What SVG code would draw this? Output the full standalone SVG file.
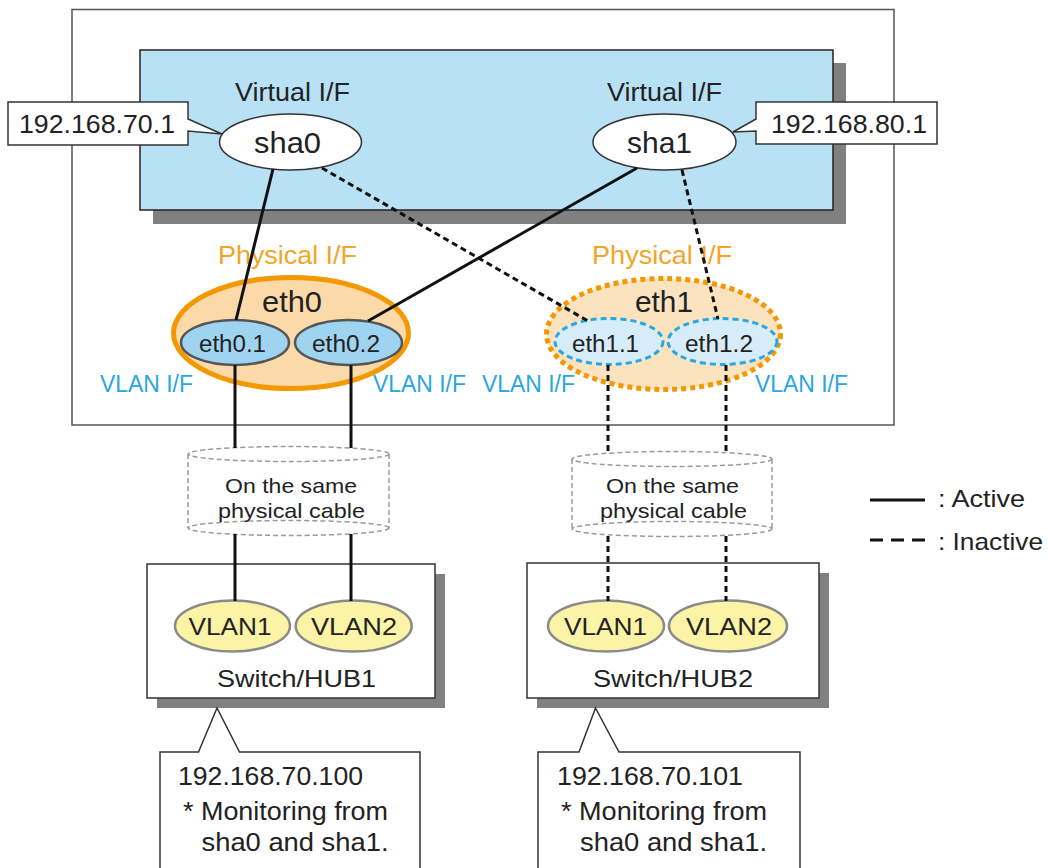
<svg xmlns="http://www.w3.org/2000/svg" width="1048" height="868" viewBox="0 0 1048 868">
<defs>
<style>
text { font-family: "Liberation Sans", Arial, Helvetica, sans-serif; fill:#222; }
.box { fill:#fff; stroke:#333; stroke-width:1.5; }
.shadow { fill:#808080; }
.vif { fill:#fff; stroke:#333; stroke-width:1.5; }
.solid { stroke:#111; stroke-width:3; fill:none; }
.dash { stroke:#111; stroke-width:3; fill:none; stroke-dasharray:6 4; }
.orange { fill:#f4a428; }
.blue { fill:#2aa6e0; }
.vlan { fill:#fbf3a6; stroke:#8a8a8a; stroke-width:2.5; }
.cable { fill:none; stroke:#9a9a9a; stroke-width:1.5; stroke-dasharray:5 3; }
.sub { fill:#9fd4f1; stroke:#555; stroke-width:2.5; }
.subi { fill:#d6ecf9; stroke:#2aa6e0; stroke-width:3; stroke-dasharray:6 4; }
</style>
</defs>
<rect width="1048" height="868" fill="#fff"/>

<g id="host">
  <rect x="72" y="9.5" width="822" height="415.5" fill="#fff" stroke="#555" stroke-width="1.5"/>
</g>

<g id="virtual-area">
  <rect class="shadow" x="153" y="63" width="693" height="161"/>
  <rect x="140" y="50" width="693" height="160" fill="#b8e1f6" stroke="#222" stroke-width="1.5"/>
  <text x="235" y="101" font-size="25" textLength="115" lengthAdjust="spacingAndGlyphs">Virtual I/F</text>
  <text x="607" y="101" font-size="25" textLength="115" lengthAdjust="spacingAndGlyphs">Virtual I/F</text>
</g>

<g id="ip-sha0">
  <path class="box" d="M8,102 H188 V119 L222,134 L188,131 V145 H8 Z"/>
  <text x="19" y="133" font-size="26" textLength="156" lengthAdjust="spacingAndGlyphs">192.168.70.1</text>
</g>
<g id="ip-sha1">
  <path class="box" d="M756,102 H937 V144 H756 V131 L733,132 L756,119 Z"/>
  <text x="771" y="133" font-size="26" textLength="156" lengthAdjust="spacingAndGlyphs">192.168.80.1</text>
</g>

<g id="sha0">
  <ellipse class="vif" cx="290.5" cy="142" rx="71" ry="28"/>
  <text x="254" y="153" font-size="30" textLength="67" lengthAdjust="spacingAndGlyphs">sha0</text>
</g>
<g id="sha1">
  <ellipse class="vif" cx="664.5" cy="142" rx="71.5" ry="28"/>
  <text x="627" y="153" font-size="30" textLength="65" lengthAdjust="spacingAndGlyphs">sha1</text>
</g>

<g id="eth0">
  <text class="orange" x="218" y="264" font-size="25" textLength="139" lengthAdjust="spacingAndGlyphs">Physical I/F</text>
  <ellipse cx="291" cy="333" rx="117.5" ry="55.5" fill="#fbd9a8" stroke="#f39800" stroke-width="5"/>
  <text x="262" y="312" font-size="30" textLength="60" lengthAdjust="spacingAndGlyphs">eth0</text>
</g>
<g id="eth1">
  <text class="orange" x="592" y="264" font-size="25" textLength="140" lengthAdjust="spacingAndGlyphs">Physical I/F</text>
  <ellipse cx="663.5" cy="334" rx="117" ry="55.5" fill="#fce3c0" stroke="#f39800" stroke-width="5" stroke-dasharray="5 4"/>
  <text x="635" y="312" font-size="30" textLength="58" lengthAdjust="spacingAndGlyphs">eth1</text>
</g>

<g id="eth0.1">
  <ellipse class="sub" cx="235" cy="342.5" rx="54" ry="22.5"/>
  <text x="199" y="352" font-size="23" textLength="67" lengthAdjust="spacingAndGlyphs">eth0.1</text>
</g>
<g id="eth0.2">
  <ellipse class="sub" cx="348.5" cy="342.5" rx="53.5" ry="22.5"/>
  <text x="312" y="352" font-size="23" textLength="68" lengthAdjust="spacingAndGlyphs">eth0.2</text>
</g>
<g id="eth1.1">
  <ellipse class="subi" cx="609" cy="341.5" rx="54" ry="23"/>
  <text x="572" y="352" font-size="23" textLength="67" lengthAdjust="spacingAndGlyphs">eth1.1</text>
</g>
<g id="eth1.2">
  <ellipse class="subi" cx="722.5" cy="341.5" rx="54.5" ry="23"/>
  <text x="685" y="352" font-size="23" textLength="68" lengthAdjust="spacingAndGlyphs">eth1.2</text>
</g>

<g id="vlan-if-labels">
  <text class="blue" x="100" y="392" font-size="23" textLength="93" lengthAdjust="spacingAndGlyphs">VLAN I/F</text>
  <text class="blue" x="373" y="392" font-size="23" textLength="93" lengthAdjust="spacingAndGlyphs">VLAN I/F</text>
  <text class="blue" x="482" y="392" font-size="23" textLength="93" lengthAdjust="spacingAndGlyphs">VLAN I/F</text>
  <text class="blue" x="755" y="392" font-size="23" textLength="93" lengthAdjust="spacingAndGlyphs">VLAN I/F</text>
</g>

<g id="cable1">
  <ellipse class="cable" cx="288.5" cy="454" rx="100.5" ry="7.5"/>
  <ellipse class="cable" cx="288.5" cy="528" rx="100.5" ry="7.5"/>
  <line class="cable" x1="188" y1="454" x2="188" y2="528"/>
  <line class="cable" x1="389" y1="454" x2="389" y2="528"/>
  <text x="225" y="493" font-size="21" textLength="132" lengthAdjust="spacingAndGlyphs">On the same</text>
  <text x="218" y="517.5" font-size="21" textLength="147" lengthAdjust="spacingAndGlyphs">physical cable</text>
</g>
<g id="cable2">
  <ellipse class="cable" cx="672" cy="459" rx="100" ry="7.5"/>
  <ellipse class="cable" cx="672" cy="529" rx="100" ry="7.5"/>
  <line class="cable" x1="572" y1="459" x2="572" y2="529"/>
  <line class="cable" x1="772" y1="459" x2="772" y2="529"/>
  <text x="606" y="493" font-size="21" textLength="133" lengthAdjust="spacingAndGlyphs">On the same</text>
  <text x="600" y="517.5" font-size="21" textLength="147" lengthAdjust="spacingAndGlyphs">physical cable</text>
</g>

<g id="hub1">
  <rect class="shadow" x="157" y="574" width="288" height="134"/>
  <rect class="box" x="147" y="564" width="288" height="134"/>
  <ellipse class="vlan" cx="232.5" cy="626" rx="57.5" ry="25.5"/>
  <ellipse class="vlan" cx="353.7" cy="626" rx="58" ry="25.5"/>
  <text x="188.5" y="635" font-size="24" textLength="83" lengthAdjust="spacingAndGlyphs">VLAN1</text>
  <text x="311" y="635" font-size="24" textLength="86" lengthAdjust="spacingAndGlyphs">VLAN2</text>
  <text x="217" y="687" font-size="24" textLength="159" lengthAdjust="spacingAndGlyphs">Switch/HUB1</text>
</g>
<g id="hub2">
  <rect class="shadow" x="537" y="573" width="292" height="135"/>
  <rect class="box" x="527" y="563" width="292" height="135"/>
  <ellipse class="vlan" cx="606" cy="626" rx="58" ry="25.5"/>
  <ellipse class="vlan" cx="728" cy="626" rx="59" ry="25.5"/>
  <text x="564" y="635" font-size="24" textLength="83" lengthAdjust="spacingAndGlyphs">VLAN1</text>
  <text x="686" y="635" font-size="24" textLength="86" lengthAdjust="spacingAndGlyphs">VLAN2</text>
  <text x="593" y="687" font-size="24" textLength="160" lengthAdjust="spacingAndGlyphs">Switch/HUB2</text>
</g>

<g id="note1">
  <path class="box" d="M160,880 V752 H198.5 L217,708 L239.5,752 H420 V880"/>
  <text x="178" y="785" font-size="25" textLength="185" lengthAdjust="spacingAndGlyphs">192.168.70.100</text>
  <text x="183" y="819.5" font-size="25" textLength="205" lengthAdjust="spacingAndGlyphs">* Monitoring from</text>
  <text x="201.5" y="851" font-size="25" textLength="187" lengthAdjust="spacingAndGlyphs">sha0 and sha1.</text>
</g>
<g id="note2">
  <path class="box" d="M538,880 V752 H579 L595.5,708 L619,752 H800 V880"/>
  <text x="557" y="785" font-size="25" textLength="186" lengthAdjust="spacingAndGlyphs">192.168.70.101</text>
  <text x="561" y="819.5" font-size="25" textLength="206" lengthAdjust="spacingAndGlyphs">* Monitoring from</text>
  <text x="580" y="851" font-size="25" textLength="187" lengthAdjust="spacingAndGlyphs">sha0 and sha1.</text>
</g>

<g id="connectors">
  <line class="solid" x1="273" y1="169" x2="236" y2="320"/>
  <line class="solid" x1="637" y1="168" x2="368" y2="321"/>
  <line class="dash" x1="322" y1="168" x2="588" y2="321"/>
  <line class="dash" x1="682" y1="170" x2="718" y2="319"/>
  <line class="solid" x1="235" y1="365" x2="235" y2="448"/>
  <line class="solid" x1="235" y1="534" x2="235" y2="601"/>
  <line class="solid" x1="351" y1="365" x2="351" y2="448"/>
  <line class="solid" x1="351" y1="534" x2="351" y2="601"/>
  <line class="dash" x1="608" y1="365" x2="608" y2="452"/>
  <line class="dash" x1="608" y1="536" x2="608" y2="601"/>
  <line class="dash" x1="726" y1="365" x2="726" y2="452"/>
  <line class="dash" x1="726" y1="536" x2="726" y2="601"/>
</g>

<g id="legend">
  <line class="solid" x1="870" y1="500" x2="925" y2="500"/>
  <line stroke="#111" stroke-width="3" stroke-dasharray="13 8" x1="870" y1="540" x2="925" y2="540"/>
  <text x="938" y="507" font-size="24" textLength="87" lengthAdjust="spacingAndGlyphs">: Active</text>
  <text x="938" y="550" font-size="24" textLength="105" lengthAdjust="spacingAndGlyphs">: Inactive</text>
</g>
</svg>
